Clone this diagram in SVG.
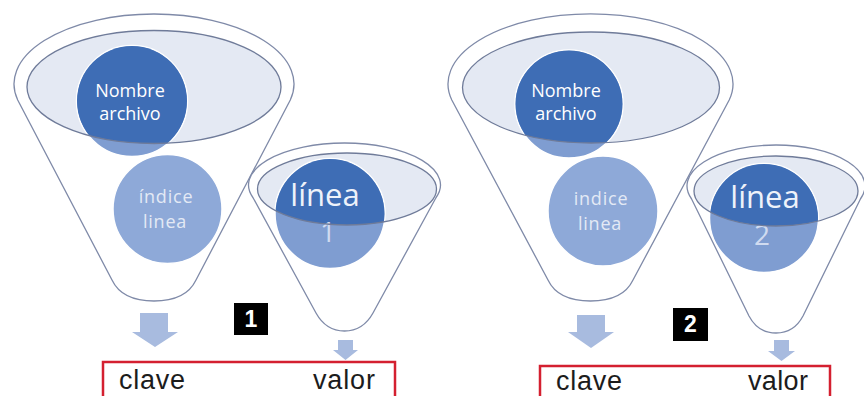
<svg xmlns="http://www.w3.org/2000/svg" width="864" height="396" viewBox="0 0 864 396">
<defs>
<style>
.funnel{fill:#ffffff;stroke:#7f8aa8;stroke-width:1.3}
.rim{fill:#e4e9f3;stroke:none}
.rimline{fill:none;stroke:#6f7b99;stroke-width:1.3}
.dark{fill:#3e6db5}
.light{fill:#7f9dd1;stroke:#ffffff;stroke-width:1.5}
.idx{fill:#8ea9d8;stroke:#ffffff;stroke-width:1.5}
.t{font-family:"Open Sans","Liberation Sans",sans-serif;text-anchor:middle}
.tw{fill:#ffffff;font-size:18px}
.ti{fill:#e3e9f5;font-size:18px;letter-spacing:0.8px}
.tl{fill:#eef2fa;font-size:31px}
.tn{fill:#d0dbf0;font-size:28px}
.arrow{fill:#a8bbdf}
.box{fill:#ffffff;stroke:#d42030;stroke-width:2.5}
.kv{font-family:"Liberation Sans",Arial,sans-serif;font-size:27px;fill:#1c1c1c}
.num{fill:#000000}
.numt{font-family:"Liberation Sans",Arial,sans-serif;font-size:23px;font-weight:bold;fill:#ffffff;text-anchor:middle}
</style>
<clipPath id="cL"><ellipse cx="154" cy="87" rx="127" ry="56.5"/></clipPath>
<clipPath id="cR"><ellipse cx="591" cy="87.5" rx="128.5" ry="55.5"/></clipPath>
<clipPath id="c1"><ellipse cx="347" cy="189" rx="89.5" ry="36"/></clipPath>
<clipPath id="c2"><ellipse cx="776" cy="191" rx="82" ry="35"/></clipPath>
</defs>
<rect width="864" height="396" fill="#ffffff"/>

<g id="funnel-left">
<path class="funnel" d="M17.7,100 A140 70 0 1 1 290.3,100 L196,280 Q186,301 154,301 Q122,301 112,280 Z"/>
<ellipse class="rim" cx="154" cy="87" rx="127" ry="56.5"/>
<g id="node-nombre-1">
<circle class="light" cx="132" cy="101" r="55.5"/>
<circle class="dark" cx="132" cy="101" r="55" clip-path="url(#cL)"/>
<text class="t tw" x="130" y="97">Nombre</text>
<text class="t tw" x="130" y="120">archivo</text>
</g>
<ellipse class="rimline" cx="154" cy="87" rx="127" ry="56.5"/>
<g id="node-indice-1">
<circle class="idx" cx="167.5" cy="209" r="54.5"/>
<text class="t ti" x="166" y="203">índice</text>
<text class="t ti" x="165" y="228">linea</text>
</g>
</g>

<g id="funnel-small-1">
<path class="funnel" d="M253.2,198 A96 42 0 1 1 435.8,198 L373,313 Q363,331 344.5,331 Q326,331 316,313 Z"/>
<ellipse class="rim" cx="347" cy="189" rx="89.5" ry="36"/>
<g id="node-linea-1">
<circle class="light" cx="330" cy="213.5" r="55"/>
<circle class="dark" cx="330" cy="213.5" r="54.5" clip-path="url(#c1)"/>
<text class="t tl" x="325" y="206">línea</text>
<text class="t tn" x="328" y="242">1</text>
</g>
<ellipse class="rimline" cx="347" cy="189" rx="89.5" ry="36"/>
</g>

<g id="funnel-right">
<path class="funnel" d="M451.8,100 A142.5 70 0 1 1 729.2,100 L633,280 Q623,301 590.5,301 Q558,301 548,280 Z"/>
<ellipse class="rim" cx="591" cy="87.5" rx="128.5" ry="55.5"/>
<g id="node-nombre-2">
<circle class="light" cx="569" cy="104" r="54"/>
<circle class="dark" cx="569" cy="104" r="53.5" clip-path="url(#cR)"/>
<text class="t tw" x="566" y="97">Nombre</text>
<text class="t tw" x="566" y="120">archivo</text>
</g>
<ellipse class="rimline" cx="591" cy="87.5" rx="128.5" ry="55.5"/>
<g id="node-indice-2">
<circle class="idx" cx="603" cy="211" r="55"/>
<text class="t ti" x="601" y="205">indice</text>
<text class="t ti" x="600" y="230">linea</text>
</g>
</g>

<g id="funnel-small-2">
<path class="funnel" d="M691.6,199 A89 41 0 1 1 860.4,199 L803,316 Q794,333 776,333 Q758,333 749,316 Z"/>
<ellipse class="rim" cx="776" cy="191" rx="82" ry="35"/>
<g id="node-linea-2">
<circle class="light" cx="764" cy="218" r="54.5"/>
<circle class="dark" cx="764" cy="218" r="54" clip-path="url(#c2)"/>
<text class="t tl" x="765" y="208">línea</text>
<text class="t tn" x="762" y="245">2</text>
</g>
<ellipse class="rimline" cx="776" cy="191" rx="82" ry="35"/>
</g>

<g id="connectors">
<polygon class="arrow" points="140,313 168,313 168,332 178,332 155,347 132,332 140,332"/>
<polygon class="arrow" points="338,340 353,340 353,350 358,350 345.5,360 333,350 338,350"/>
<polygon class="arrow" points="577,315 605,315 605,332 614,332 591,348 568,332 577,332"/>
<polygon class="arrow" points="774,340 789,340 789,351 795,351 781.5,361 768,351 774,351"/>
</g>

<g id="label-1">
<rect class="num" x="234" y="303" width="34" height="32"/>
<text class="numt" x="251" y="327">1</text>
</g>
<g id="label-2">
<rect class="num" x="673" y="308" width="35" height="33"/>
<text class="numt" x="690.5" y="332">2</text>
</g>

<g id="kv-1">
<rect class="box" x="103" y="362" width="292" height="44"/>
<text class="kv" x="119" y="389" textLength="66">clave</text>
<text class="kv" x="313" y="389" textLength="62">valor</text>
</g>
<g id="kv-2">
<rect class="box" x="540" y="366" width="290" height="44"/>
<text class="kv" x="556" y="390" textLength="66">clave</text>
<text class="kv" x="748" y="390" textLength="60">valor</text>
</g>
</svg>
